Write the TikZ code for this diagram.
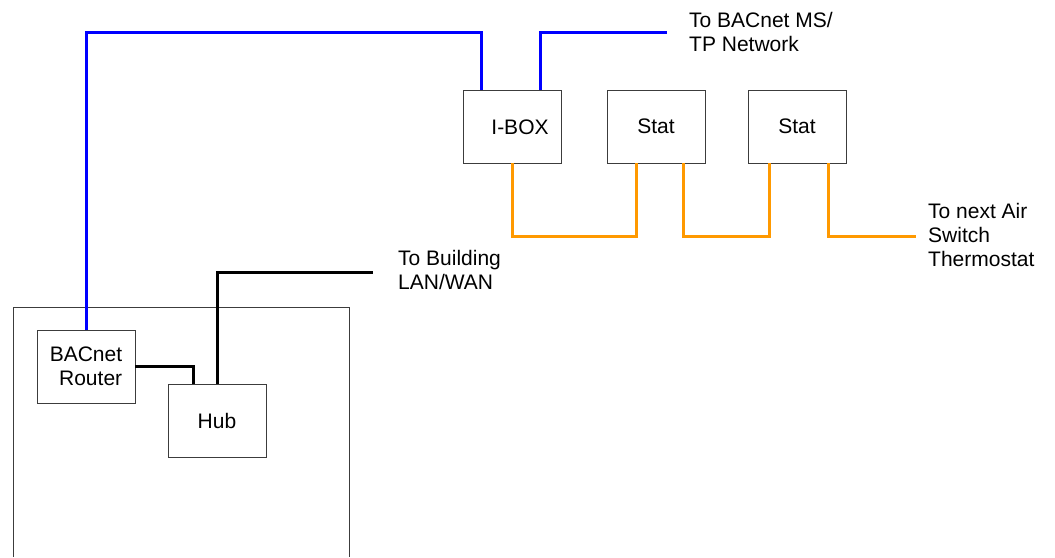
\documentclass[tikz,border=0pt]{standalone}
\usepackage{fontspec}
\setmainfont{Liberation Sans}
\usetikzlibrary{calc}
\definecolor{wireblue}{RGB}{0,0,255}
\definecolor{wireorange}{RGB}{255,153,0}
\definecolor{boxline}{RGB}{60,60,60}
\begin{document}
\begin{tikzpicture}[x=1pt,y=-1pt,
  box/.style={draw=boxline, line width=1pt, minimum width=98pt, minimum height=73pt,
    inner sep=0pt, outer sep=0pt, anchor=north west, font=\fontsize{21}{24}\selectfont, align=center},
  lbl/.style={font=\fontsize{21}{24}\selectfont, inner sep=0pt},
  note/.style={font=\fontsize{21}{24}\selectfont, inner sep=0pt, anchor=west, align=left},
  bluew/.style={draw=wireblue, line width=3pt},
  blackw/.style={draw=black, line width=3pt},
  orangew/.style={draw=wireorange, line width=3pt},
  frame/.style={draw=boxline, line width=1pt}]
\useasboundingbox (0,0) rectangle (1055,557);
% enclosure
\draw[frame] (13,557) -- (13,307) -- (349,307) -- (349,557);
% boxes
\node[box, align=right] (router) at (37,330) {BACnet\\Router};
\node[box] (hub) at (168,384) {Hub};
\node[box] (ibox) at (463,90) {};
\node[lbl] (iboxt) at (520,127) {I-BOX};
\node[box] (stat1) at (607,90) {Stat};
\node[box] (stat2) at (748,90) {Stat};
% ports
\coordinate (ip1) at ($(ibox.north west)+(18,0)$);
\coordinate (ip2) at ($(ibox.north west)+(77,0)$);
\coordinate (hp1) at ($(hub.north west)+(25,0)$);
\coordinate (s1a) at ($(stat1.south west)+(29,0)$);
\coordinate (s1b) at ($(stat1.south west)+(76,0)$);
\coordinate (s2a) at ($(stat2.south west)+(21,0)$);
\coordinate (s2b) at ($(stat2.south west)+(80,0)$);
\coordinate (bt) at (0,32);
\coordinate (ob) at (0,236);
\coordinate (msend) at (667,32);
\coordinate (lanend) at (373,272);
\coordinate (airend) at (916,236);
% blue BACnet wiring
\draw[bluew] (router.north) |- (bt -| ip1) -- (ip1);
\draw[bluew] (ip2) |- (msend);
% black LAN wiring
\draw[blackw] (router.east) -| (hp1);
\draw[blackw] (hub.north) |- (lanend);
% orange MS/TP wiring
\draw[orangew] (ibox.south) |- (ob -| s1a) -- (s1a);
\draw[orangew] (s1b) |- (ob -| s2a) -- (s2a);
\draw[orangew] (s2b) |- (airend);
% notes
\node[note] (msnote) at (689,31.5) {To BACnet MS/\\TP Network};
\node[note] (lannote) at (398,270) {To Building\\LAN/WAN};
\node[note] (airnote) at (928,234.5) {To next Air\\Switch\\Thermostat};
\end{tikzpicture}
\end{document}
